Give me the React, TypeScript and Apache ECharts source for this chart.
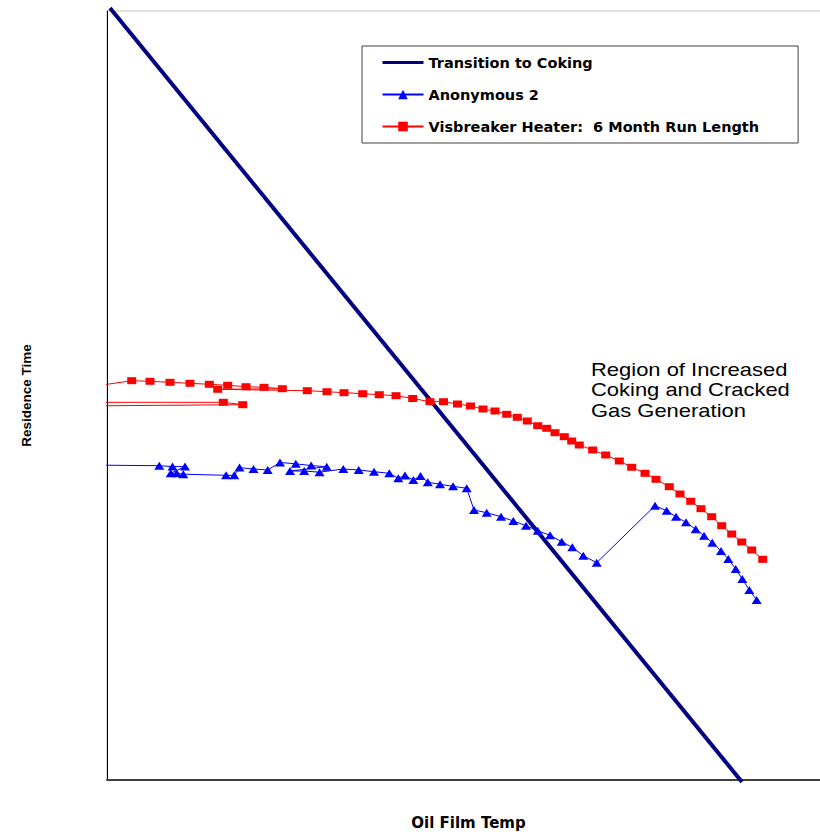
import React, { useEffect, useRef } from "react";
import * as echarts from "echarts";

// Values (arbitrary units: no tick labels in the reference)
const seriesNames = ["Transition to Coking", "Anonymous 2", "Visbreaker Heater:  6 Month Run Length"];
const axisNames = { x: "Oil Film Temp", y: "Residence Time" };
const regionLabel = ["Region of Increased", "Coking and Cracked", "Gas Generation"];

const transitionPoints: number[][] = [
  [3, 772],
  [635, -2],
];

const anonymousPoints: number[][] = [
  [-57, 315.3], [52.3, 314.3], [65.5, 313.4], [78, 313.4], [63.7, 306.7], [69.7, 306.7],
  [76.3, 305.8], [119, 304.7], [127.3, 304.7], [132.5, 312.4], [146.5, 311], [160.7, 310],
  [173, 317.5], [188.8, 316.2], [204.2, 314.4], [219.7, 313.3], [183, 309], [197.2, 309],
  [212.5, 307.8], [236.3, 311], [251.7, 310], [267, 308.3], [282.3, 306.7], [291.3, 301.7],
  [298, 304.5], [306.3, 300], [313.5, 304], [320.8, 297.8], [333, 295.7], [346, 293.7],
  [359.7, 291.7], [367, 270], [379.7, 267.3], [394, 263.3], [406.3, 259], [419, 254.3],
  [430.7, 249.3], [443, 244.7], [454.7, 238.3], [465.3, 232.7], [476.3, 224.3], [489.7, 217.3],
  [548, 274.3], [559.7, 269.3], [569, 263.3], [579, 257.7], [588.7, 250.7], [597, 244.3],
  [605.3, 237.3], [614, 229], [621.3, 221], [628.7, 211], [635.3, 201], [642.3, 190], [649.7, 180],
];

const visbreakerPoints: number[][] = [
  [-57, 373.8], [135.7, 375.3], [116.3, 377.7], [-57, 377.7], [-57, 387.4], [24.7, 399.3],
  [43, 398.7], [63, 397.7], [83, 396.7], [102.3, 395.7], [120.7, 394.7], [139, 393.3],
  [157, 392.7], [175.3, 391.3], [110.7, 390.7], [200.3, 389.3], [220, 388.3], [237, 387.3],
  [255.7, 386.3], [272.3, 385.3], [289, 384.3], [305.7, 381.5], [323, 378.3], [336.5, 378.3],
  [350.5, 376], [363.5, 374], [376, 371], [388, 369], [399.7, 365.7], [410.3, 362.7],
  [420.3, 359], [430.7, 354.3], [439.7, 351.7], [448, 347.3], [457.3, 343.3], [464.7, 339],
  [472.3, 335], [485.7, 330], [498.7, 325], [512.3, 319], [524.7, 312.7], [538, 306.7],
  [549, 300.7], [562.3, 293.3], [573, 286], [583.7, 278.7], [594, 271.3], [604.7, 263.3],
  [614.7, 254.3], [624.7, 246], [634.7, 238], [644.7, 230], [655.7, 220.7],
];

const xRange = [0, 723];
const yRange = [0, 769];

export default function App() {
  const ref = useRef<HTMLDivElement>(null);

  useEffect(() => {
    if (!ref.current) return;
    const chart = echarts.init(ref.current, null, { renderer: "svg" });
    chart.setOption({
      animation: false,
      backgroundColor: "#ffffff",
      grid: {
        left: 107,
        top: 11,
        width: 723,
        height: 769,
        containLabel: false,
        outerBoundsMode: "none",
        show: true,
        borderColor: "#c0c0c0",
        borderWidth: 1,
        backgroundColor: "transparent",
      },
      xAxis: {
        type: "value",
        min: xRange[0],
        max: xRange[1],
        name: axisNames.x,
        nameLocation: "middle",
        nameGap: 35,
        nameTextStyle: {
          fontFamily: "DejaVu Sans",
          fontWeight: "bold",
          fontSize: 15,
          lineHeight: 15,
          color: "#000",
        },
        axisLine: { show: true, lineStyle: { color: "#404040", width: 2 } },
        axisTick: { show: false },
        axisLabel: { show: false },
        splitLine: { show: false },
      },
      yAxis: {
        type: "value",
        min: yRange[0],
        max: yRange[1],
        name: axisNames.y,
        nameLocation: "middle",
        nameGap: 74,
        nameTextStyle: { fontFamily: "Liberation Sans", fontWeight: "bold", fontSize: 13.5, color: "#000" },
        axisLine: { show: true, lineStyle: { color: "#000000", width: 1 } },
        axisTick: { show: false },
        axisLabel: { show: false },
        splitLine: { show: false },
      },
      legend: {
        orient: "vertical",
        left: 362,
        top: 46,
        padding: [9, 39, 9, 19],
        itemGap: 17,
        itemWidth: 41,
        itemHeight: 12,
        borderColor: "#404040",
        borderWidth: 1,
        backgroundColor: "#ffffff",
        textStyle: {
          fontFamily: "DejaVu Sans",
          fontWeight: "bold",
          fontSize: 14.5,
          lineHeight: 14,
          color: "#000",
        },
        data: [
          { name: seriesNames[0], itemStyle: { opacity: 0 }, lineStyle: { width: 3 } },
          { name: seriesNames[1] },
          { name: seriesNames[2] },
        ],
      },
      graphic: [
        {
          type: "text",
          x: 591,
          y: 359,
          scaleX: 1.22,
          style: {
            text: regionLabel.join("\n"),
            fontFamily: "Liberation Sans",
            fontSize: 18,
            lineHeight: 20.5,
            fill: "#000",
            verticalAlign: "top",
            align: "left",
          },
        },
      ],
      series: [
        {
          name: seriesNames[0],
          type: "line",
          data: transitionPoints,
          symbol: "none",
          clip: false,
          lineStyle: { color: "#000080", width: 4 },
          itemStyle: { color: "#000080" },
          z: 2,
        },
        {
          name: seriesNames[1],
          type: "line",
          data: anonymousPoints,
          symbol: "triangle",
          symbolSize: [10, 8],
          showAllSymbol: true,
          lineStyle: { color: "#0000ff", width: 1 },
          itemStyle: { color: "#0000ff" },
          z: 3,
        },
        {
          name: seriesNames[2],
          type: "line",
          data: visbreakerPoints,
          symbol: "rect",
          symbolSize: [9, 7],
          showAllSymbol: true,
          lineStyle: { color: "#ff0000", width: 1 },
          itemStyle: { color: "#ff0000" },
          z: 4,
        },
      ],
    });
    return () => chart.dispose();
  }, []);

  return (
    <div style={{ position: "absolute", left: 0, top: 0, width: 820, height: 832, overflow: "hidden" }}>
      <div ref={ref} style={{ width: 820, height: 832 }} />
    </div>
  );
}
